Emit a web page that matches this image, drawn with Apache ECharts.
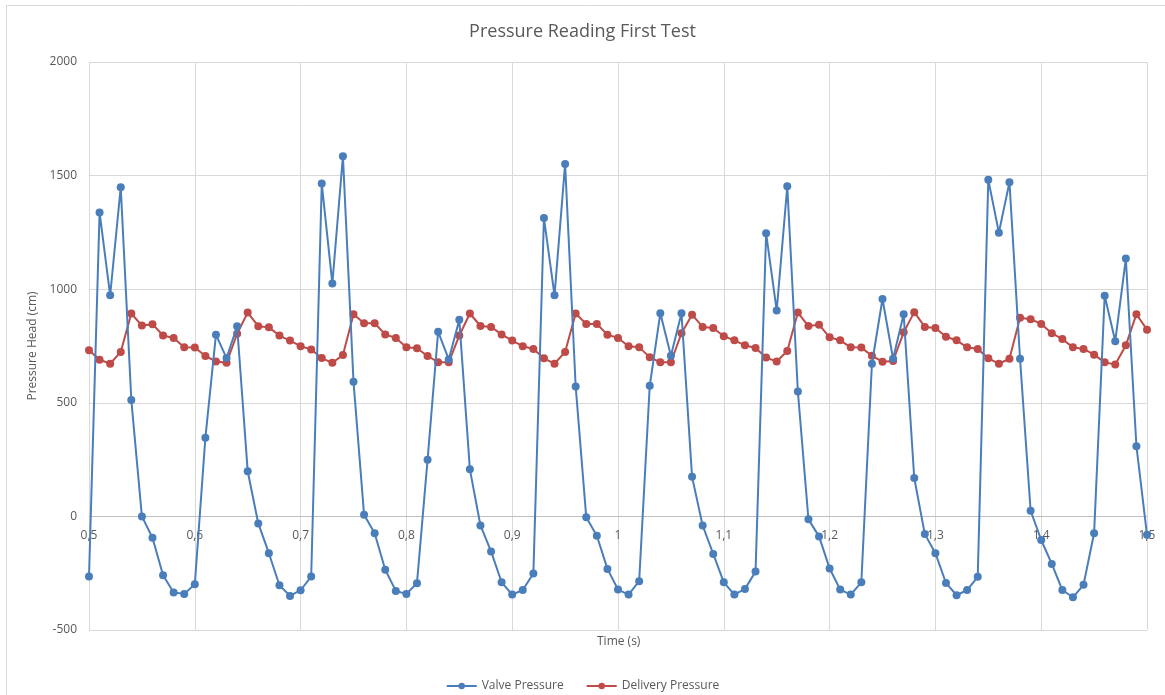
<!DOCTYPE html>
<html>
<head>
<meta charset="utf-8">
<script src="https://cdn.jsdelivr.net/npm/echarts@6/dist/echarts.min.js"></script>
<style>
html,body{margin:0;padding:0;background:#fff;}
#c{width:1165px;height:695px;}
</style>
</head>
<body>
<div id="c"></div>
<script>
const times = [];
for (let i = 0; i <= 100; i++) times.push(+(0.5 + i * 0.01).toFixed(2));

const valvePressure = [
  -265, 1338, 973, 1449, 512, 0, -94, -259, -335, -341,
  -299, 346, 800, 697, 837, 199, -31, -162, -303, -350,
  -325, -265, 1465, 1025, 1585, 593, 7, -74, -235, -328,
  -341, -294, 249, 813, 691, 865, 207, -40, -154, -290,
  -344, -324, -251, 1313, 973, 1551, 572, -4, -85, -231,
  -322, -344, -285, 575, 894, 707, 894, 174, -40, -165,
  -290, -344, -319, -243, 1246, 906, 1453, 550, -13, -88,
  -229, -322, -344, -290, 672, 957, 694, 890, 169, -78,
  -162, -293, -347, -324, -266, 1482, 1249, 1471, 694, 25,
  -104, -209, -324, -356, -301, -74, 971, 771, 1135, 309,
  -81
];

const deliveryPressure = [
  731, 690, 672, 724, 893, 840, 846, 796, 785, 744,
  743, 706, 682, 676, 804, 897, 837, 832, 796, 774,
  749, 735, 697, 676, 710, 890, 850, 850, 801, 785,
  744, 740, 706, 679, 678, 796, 893, 838, 834, 801,
  774, 749, 737, 696, 672, 724, 893, 847, 847, 800,
  785, 749, 744, 701, 678, 678, 806, 888, 834, 829,
  793, 775, 753, 741, 699, 682, 728, 897, 838, 844,
  788, 775, 744, 743, 707, 681, 684, 810, 899, 834,
  829, 791, 775, 744, 737, 696, 672, 694, 874, 868,
  847, 806, 781, 744, 737, 712, 678, 669, 753, 890,
  822
];

const seriesNames = ['Valve Pressure', 'Delivery Pressure'];
const colors = ['#4a7ebb', '#be4b48'];

const chart = echarts.init(document.getElementById('c'));
const font = 'Open Sans, Noto Sans, sans-serif';
const txt = '#595959';

const gridTop = 62, gridBottom = 65, chartH = 695;
const yMin = -500, yMax = 2000;
const plotH = chartH - gridTop - gridBottom;
const zeroOffset = -plotH * (0 - yMin) / (yMax - yMin);

chart.setOption({
  animation: false,
  backgroundColor: '#fff',
  textStyle: { fontFamily: font },
  title: {
    text: 'Pressure Reading First Test',
    left: 'center',
    top: 18,
    textStyle: { fontFamily: font, fontSize: 18, fontWeight: 'normal', color: txt }
  },
  graphic: [{
    type: 'rect',
    shape: { x: 6.5, y: 5.5, width: 1170, height: 700 },
    style: { fill: 'none', stroke: '#d9d9d9', lineWidth: 1 },
    silent: true
  }, {
    type: 'text',
    left: 597,
    top: 636,
    style: { text: 'Time (s)', fill: txt, font: '12px ' + font },
    silent: true
  }],
  legend: {
    bottom: -2,
    left: 'center',
    itemWidth: 30,
    itemHeight: 8,
    itemGap: 22,
    textStyle: { fontFamily: font, fontSize: 12, color: txt },
    data: seriesNames
  },
  grid: { left: 89, right: 18, top: gridTop, bottom: gridBottom, containLabel: false, outerBoundsMode: 'none' },
  xAxis: {
    type: 'value',
    min: 0.5,
    max: 1.5,
    interval: 0.1,
    position: 'bottom',
    offset: zeroOffset,
    axisLine: { show: true, onZero: false, lineStyle: { color: '#bfbfbf', width: 1 } },
    axisTick: { show: false },
    axisLabel: {
      fontFamily: font, fontSize: 12, color: txt, margin: 13,
      formatter: v => String(+v.toFixed(1)).replace('.', ',')
    },
    splitLine: { show: true, lineStyle: { color: '#d9d9d9', width: 1 } }
  },
  yAxis: {
    type: 'value',
    min: yMin,
    max: yMax,
    interval: 500,
    name: 'Pressure Head (cm)',
    nameLocation: 'middle',
    nameGap: 47,
    nameTextStyle: { fontFamily: font, fontSize: 12, color: txt },
    axisLine: { show: false },
    axisTick: { show: false },
    axisLabel: { fontFamily: font, fontSize: 12, color: txt, margin: 12, formatter: v => String(v) },
    splitLine: { show: true, lineStyle: { color: '#d9d9d9', width: 1 } }
  },
  series: [
    {
      name: seriesNames[0],
      type: 'line',
      data: times.map((t, i) => [t, valvePressure[i]]),
      color: colors[0],
      symbol: 'circle',
      symbolSize: 8,
      lineStyle: { width: 2 },
      z: 3
    },
    {
      name: seriesNames[1],
      type: 'line',
      data: times.map((t, i) => [t, deliveryPressure[i]]),
      color: colors[1],
      symbol: 'circle',
      symbolSize: 8,
      lineStyle: { width: 2 },
      z: 2
    }
  ]
});
</script>
</body>
</html>
